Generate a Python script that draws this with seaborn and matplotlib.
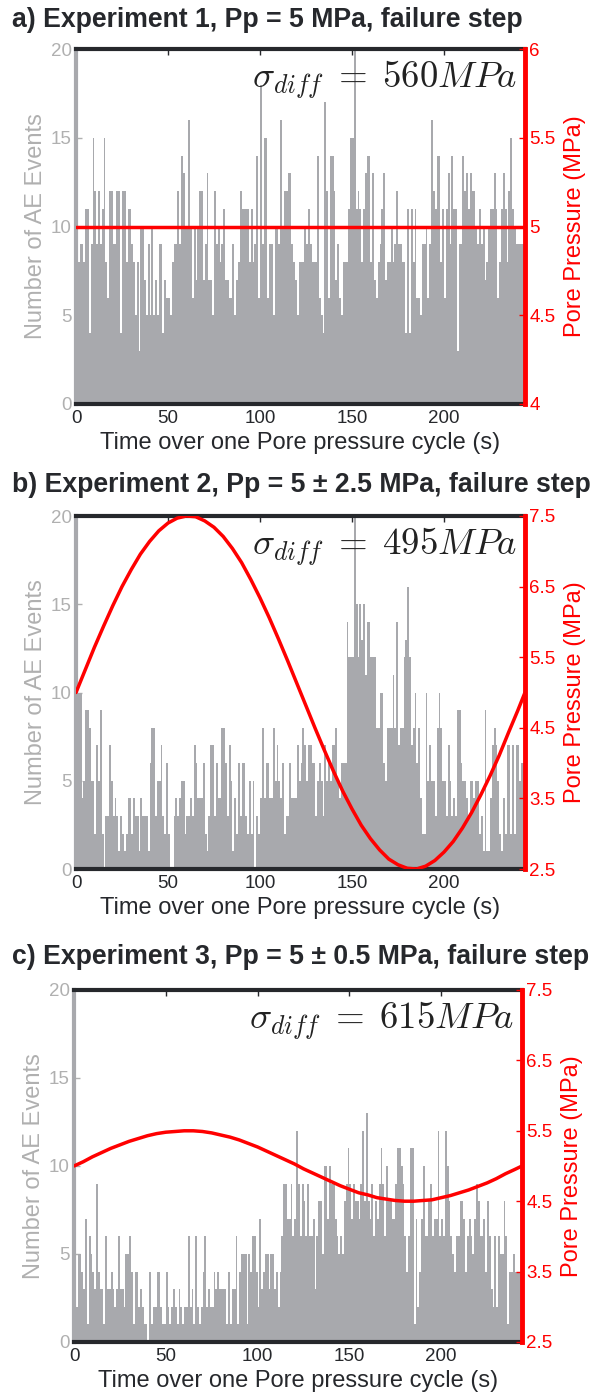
import numpy as np
import pandas as pd
import seaborn as sns
import matplotlib.pyplot as plt

# AE events per 1 s bin over one pore pressure cycle
time_s = np.arange(244) + 0.5

ae_exp1 = [8, 8, 9, 9, 8, 11, 11, 4, 9, 15,
           12, 9, 12, 9, 11, 15, 8, 6, 12, 12,
           9, 9, 12, 12, 4, 12, 12, 8, 11, 11,
           9, 8, 5, 8, 3, 10, 10, 7, 5, 9,
           5, 10, 5, 7, 5, 9, 9, 4, 7, 6,
           6, 5, 8, 9, 9, 12, 9, 14, 13, 10,
           10, 16, 10, 6, 10, 7, 10, 12, 12, 7,
           9, 13, 7, 7, 5, 12, 9, 10, 8, 9,
           11, 7, 7, 6, 6, 9, 5, 7, 8, 12,
           11, 11, 11, 11, 8, 11, 8, 9, 14, 6,
           18, 9, 15, 15, 6, 9, 9, 5, 10, 10,
           9, 16, 10, 12, 12, 13, 13, 9, 8, 7,
           5, 8, 8, 8, 10, 9, 11, 9, 8, 8,
           8, 14, 6, 5, 4, 17, 12, 6, 14, 14,
           12, 7, 9, 6, 5, 8, 8, 8, 11, 15,
           15, 20, 11, 12, 11, 8, 11, 13, 14, 14,
           8, 13, 7, 6, 8, 9, 11, 13, 7, 8,
           8, 10, 8, 9, 12, 9, 9, 8, 8, 4,
           11, 4, 11, 8, 11, 6, 6, 5, 9, 9,
           10, 6, 9, 16, 12, 11, 14, 14, 8, 11,
           6, 11, 13, 9, 14, 11, 11, 3, 9, 9,
           14, 12, 13, 11, 13, 12, 12, 10, 9, 11,
           9, 10, 7, 8, 10, 11, 11, 13, 11, 6,
           8, 11, 13, 11, 8, 12, 15, 11, 10, 9,
           9, 9, 9, 9]

ae_exp2 = [10, 10, 10, 4, 5, 9, 9, 8, 5, 5,
           2, 7, 5, 9, 2, 0, 3, 3, 7, 5,
           3, 4, 3, 1, 3, 2, 1, 2, 4, 4,
           2, 4, 3, 3, 1, 4, 3, 3, 3, 1,
           6, 8, 8, 3, 5, 5, 7, 3, 2, 6,
           2, 0, 0, 3, 4, 3, 4, 5, 5, 2,
           3, 3, 4, 3, 7, 6, 4, 4, 4, 6,
           2, 1, 3, 7, 7, 3, 6, 4, 4, 8,
           8, 6, 3, 7, 5, 1, 4, 2, 6, 3,
           6, 6, 3, 2, 5, 2, 5, 0, 3, 2,
           4, 8, 4, 6, 6, 4, 4, 8, 5, 7,
           5, 4, 6, 2, 3, 3, 6, 4, 4, 4,
           7, 5, 6, 8, 7, 5, 7, 7, 6, 6,
           3, 5, 6, 5, 3, 7, 5, 6, 5, 7,
           7, 8, 5, 4, 6, 6, 6, 14, 12, 12,
           12, 20, 15, 12, 15, 13, 15, 11, 14, 14,
           12, 12, 12, 8, 8, 10, 10, 6, 5, 8,
           8, 8, 11, 8, 14, 7, 8, 8, 12, 13,
           16, 12, 7, 8, 10, 6, 8, 4, 2, 2,
           10, 5, 7, 5, 5, 3, 8, 10, 8, 5,
           5, 3, 7, 5, 3, 4, 3, 9, 9, 6,
           5, 5, 4, 3, 5, 5, 4, 5, 5, 2,
           3, 1, 9, 1, 1, 4, 7, 8, 7, 5,
           2, 1, 4, 2, 7, 7, 2, 7, 2, 7,
           7, 5, 6, 6]

ae_exp3 = [4, 2, 5, 5, 4, 3, 7, 1, 6, 5,
           4, 3, 9, 4, 3, 3, 1, 6, 3, 3,
           4, 3, 2, 3, 6, 3, 3, 2, 5, 5,
           6, 4, 1, 4, 4, 2, 3, 2, 1, 1,
           0, 4, 1, 2, 2, 4, 4, 2, 1, 1,
           4, 2, 1, 2, 3, 2, 1, 3, 2, 1,
           2, 2, 6, 2, 3, 1, 6, 2, 1, 2,
           4, 6, 2, 3, 2, 2, 4, 3, 4, 3,
           3, 3, 3, 1, 4, 1, 3, 3, 6, 1,
           4, 5, 5, 5, 1, 5, 4, 6, 6, 4,
           2, 7, 3, 4, 5, 5, 3, 5, 5, 3,
           4, 2, 4, 6, 9, 9, 7, 7, 9, 6,
           7, 12, 9, 6, 9, 8, 6, 9, 6, 6,
           7, 3, 6, 8, 8, 5, 10, 10, 7, 10,
           9, 9, 7, 6, 5, 6, 5, 8, 9, 11,
           9, 7, 9, 8, 8, 7, 9, 12, 8, 13,
           8, 7, 9, 6, 8, 7, 9, 11, 9, 6,
           10, 8, 8, 7, 7, 9, 11, 11, 10, 9,
           6, 4, 6, 11, 11, 1, 7, 2, 4, 7,
           10, 6, 6, 8, 9, 6, 7, 7, 12, 6,
           7, 6, 12, 10, 8, 6, 5, 4, 6, 6,
           8, 8, 7, 4, 6, 7, 6, 5, 7, 9,
           8, 6, 6, 7, 4, 8, 6, 3, 2, 6,
           2, 6, 5, 5, 8, 6, 1, 4, 4, 5,
           4, 4, 4, 4]

# pore pressure (MPa) read every 5 s
pp_time = [0, 5, 10, 15, 20, 25, 30, 35, 40, 45, 50, 55, 60, 65, 70, 75, 80, 85,
           90, 95, 100, 105, 110, 115, 120, 125, 130, 135, 140, 145, 150, 155, 160,
           165, 170, 175, 180, 185, 190, 195, 200, 205, 210, 215, 220, 225, 230,
           235, 240, 244]
pp_exp1 = [5.0] * len(pp_time)
pp_exp2 = [5.00, 5.32, 5.64, 5.94, 6.23, 6.50, 6.74, 6.96, 7.14, 7.29, 7.40, 7.47,
           7.50, 7.49, 7.43, 7.34, 7.21, 7.04, 6.84, 6.60, 6.34, 6.06, 5.76, 5.45,
           5.13, 4.81, 4.49, 4.18, 3.88, 3.60, 3.35, 3.12, 2.93, 2.77, 2.64, 2.56,
           2.51, 2.50, 2.54, 2.62, 2.74, 2.89, 3.08, 3.30, 3.55, 3.82, 4.11, 4.43,
           4.74, 5.00]
pp_exp3 = [5.00, 5.06, 5.13, 5.19, 5.25, 5.30, 5.35, 5.39, 5.43, 5.46, 5.48, 5.49,
           5.50, 5.50, 5.49, 5.47, 5.44, 5.41, 5.37, 5.32, 5.27, 5.21, 5.15, 5.09,
           5.03, 4.96, 4.90, 4.84, 4.78, 4.72, 4.67, 4.62, 4.59, 4.55, 4.53, 4.51,
           4.50, 4.50, 4.51, 4.52, 4.55, 4.58, 4.62, 4.66, 4.71, 4.76, 4.82, 4.89,
           4.95, 5.00]

titles = ["a) Experiment 1, Pp = 5 MPa, failure step",
          "b) Experiment 2, Pp = 5 \u00b1 2.5 MPa, failure step",
          "c) Experiment 3, Pp = 5 \u00b1 0.5 MPa, failure step"]
sigma_diff = [560, 495, 615]
pp_lims = [(4, 6), (2.5, 7.5), (2.5, 7.5)]
pp_ticks = [[4, 4.5, 5, 5.5, 6],
            [2.5, 3.5, 4.5, 5.5, 6.5, 7.5],
            [2.5, 3.5, 4.5, 5.5, 6.5, 7.5]]
ae_ticks = [0, 5, 10, 15, 20]
x_ticks = [0, 50, 100, 150, 200]

BAR = "#a8a9ad"
GRAY_TXT = "#b0b0b0"
DARK = "#26282c"
RED = "#ff0000"

sns.set_style("white")
plt.rcParams['font.family'] = ['Liberation Sans', 'DejaVu Sans']
plt.rcParams['mathtext.fontset'] = 'cm'

W, H = 598, 1399
fig = plt.figure(figsize=(W / 100, H / 100), dpi=100)

# axes boxes in pixels: left, top, right, bottom
boxes = [(76, 49, 525, 404), (76, 516, 525, 869), (74, 990, 522, 1342)]
title_y = [20, 485, 957]
ae_all = [ae_exp1, ae_exp2, ae_exp3]
pp_all = [pp_exp1, pp_exp2, pp_exp3]

for i in range(3):
    l, t, r, b = boxes[i]
    ax = fig.add_axes([l / W, 1 - b / H, (r - l) / W, (b - t) / H])
    df = pd.DataFrame({"t": time_s, "n": ae_all[i]})
    sns.histplot(data=df, x="t", weights="n", bins=244, binrange=(0, 244),
                 element="step", fill=True, color=BAR, alpha=1, linewidth=0, ax=ax)
    ax.set_xlim(0, 244)
    ax.set_ylim(0, 20)
    ax.set_xticks(x_ticks)
    ax.set_yticks(ae_ticks)
    ax.set_xlabel("Time over one Pore pressure cycle (s)", fontsize=17, color=DARK, labelpad=4)
    ax.set_ylabel("Number of AE Events", fontsize=17, color=GRAY_TXT, labelpad=3)
    ax.tick_params(axis='x', direction='in', top=True, length=4, width=1,
                   colors=DARK, labelsize=13.5, pad=4)
    ax.tick_params(axis='y', direction='in', right=True, length=4, width=1,
                   colors=GRAY_TXT, labelsize=13.5, pad=3)
    for s in ['top', 'bottom']:
        ax.spines[s].set_color(DARK)
        ax.spines[s].set_linewidth(3)
    ax.spines['left'].set_color(BAR)
    ax.spines['left'].set_linewidth(3)
    ax.spines['right'].set_visible(False)

    ax2 = ax.twinx()
    sns.lineplot(x=pp_time, y=pp_all[i], color=RED, linewidth=2.5, ax=ax2)
    ax2.set_ylim(*pp_lims[i])
    ax2.set_yticks(pp_ticks[i])
    ax2.set_yticklabels([f"{v:g}" for v in pp_ticks[i]])
    ax2.set_ylabel("Pore Pressure (MPa)", fontsize=17, color=RED, labelpad=6)
    ax2.tick_params(axis='y', direction='in', length=4, width=1, colors=RED,
                    labelsize=13.5, pad=3)
    for s in ['top', 'bottom', 'left']:
        ax2.spines[s].set_visible(False)
    ax2.spines['right'].set_color(RED)
    ax2.spines['right'].set_linewidth(3.5)

    ax2.text(0.982, 0.89, r"$\sigma_{diff}\;=\;%dMPa$" % sigma_diff[i],
             transform=ax.transAxes, ha='right', va='baseline', fontsize=26.5,
             color='#222222', zorder=10)

    fig.text(12 / W, 1 - title_y[i] / H, titles[i], fontsize=19.2, fontweight='bold',
             color=DARK, ha='left', va='center')

fig.savefig("out.png", dpi=100)
